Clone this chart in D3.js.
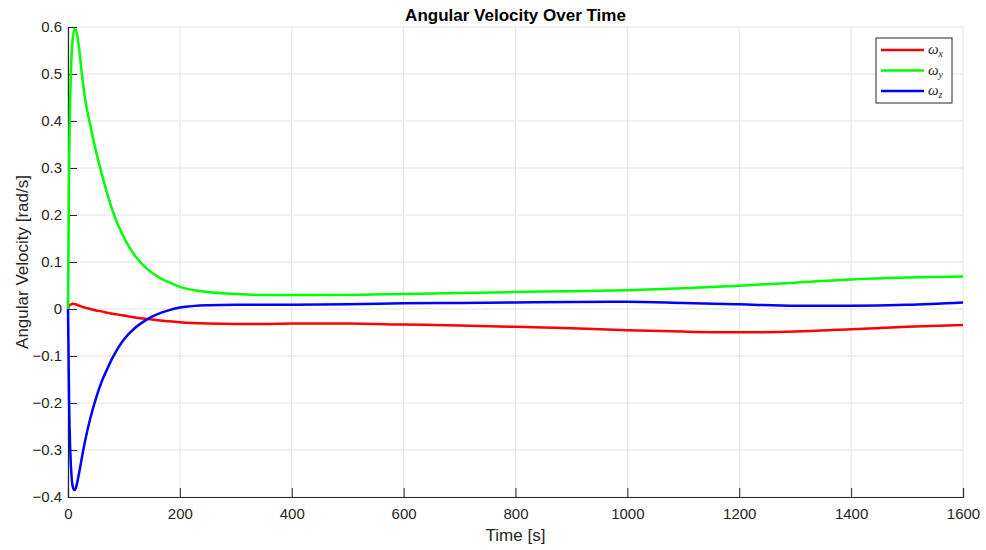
<!DOCTYPE html>
<html>
<head>
<meta charset="utf-8">
<script src="https://cdn.jsdelivr.net/npm/d3@7"></script>
<style>
  body { margin: 0; background: #fff; }
  svg { font-family: "Liberation Sans", Arial, Helvetica, sans-serif; }
</style>
</head>
<body>
<div id="chart"></div>
<script>
// time samples [s] and the three angular velocity components [rad/s]
const time = [0, 1, 2, 4, 6, 8, 10, 12, 14, 16, 20, 25, 30, 40, 50, 60, 70, 80, 90, 100,
  120, 140, 160, 180, 200, 250, 300, 350, 400, 500, 600, 700, 800, 900, 1000, 1100,
  1200, 1300, 1400, 1500, 1600];
const omegaX = [0, 0.004, 0.007, 0.009, 0.010, 0.011, 0.011, 0.010, 0.010, 0.009, 0.007, 0.005, 0.003, 0.000, -0.003, -0.005, -0.008, -0.010, -0.012, -0.014,
  -0.018, -0.021, -0.024, -0.026, -0.028, -0.031, -0.032, -0.032, -0.031, -0.031, -0.033, -0.035, -0.038, -0.041, -0.045, -0.048,
  -0.0496, -0.048, -0.043, -0.038, -0.034];
const omegaY = [0, 0.15, 0.3, 0.45, 0.53, 0.57, 0.588, 0.595, 0.594, 0.585, 0.553, 0.497, 0.452, 0.39, 0.336, 0.289, 0.246, 0.208, 0.177, 0.152,
  0.113, 0.087, 0.069, 0.057, 0.047, 0.036, 0.032, 0.030, 0.030, 0.030, 0.032, 0.034, 0.036, 0.038, 0.040, 0.044,
  0.0496, 0.056, 0.063, 0.067, 0.069];
const omegaZ = [0, -0.1, -0.2, -0.3, -0.35, -0.375, -0.383, -0.385, -0.381, -0.372, -0.348, -0.315, -0.284, -0.232, -0.19, -0.155, -0.128, -0.103, -0.082, -0.065,
  -0.04, -0.023, -0.011, -0.003, 0.003, 0.008, 0.009, 0.009, 0.009, 0.010, 0.012, 0.013, 0.014, 0.015, 0.0155, 0.013,
  0.010, 0.0068, 0.007, 0.009, 0.014];

const seriesNames = ["x", "y", "z"];
const seriesColors = ["#ff0000", "#00ff00", "#0000ff"];
const xTicks = [0, 200, 400, 600, 800, 1000, 1200, 1400, 1600];
const yTicks = [-0.4, -0.3, -0.2, -0.1, 0, 0.1, 0.2, 0.3, 0.4, 0.5, 0.6];

const width = 986, height = 550;
const margin = { top: 27, right: 23, bottom: 53, left: 68 };
const axisColor = "#262626";

const svg = d3.select("#chart").append("svg")
  .attr("width", width)
  .attr("height", height);

const x = d3.scaleLinear().domain([0, 1600]).range([margin.left, width - margin.right]);
const y = d3.scaleLinear().domain([-0.4, 0.6]).range([height - margin.bottom, margin.top]);

// grid
svg.append("g").selectAll("line.gx")
  .data(xTicks).enter().append("line")
  .attr("x1", d => x(d)).attr("x2", d => x(d))
  .attr("y1", y(-0.4)).attr("y2", y(0.6))
  .attr("stroke", "#e3e3e3").attr("stroke-width", 1);
svg.append("g").selectAll("line.gy")
  .data(yTicks).enter().append("line")
  .attr("x1", x(0)).attr("x2", x(1600))
  .attr("y1", d => y(d)).attr("y2", d => y(d))
  .attr("stroke", "#e3e3e3").attr("stroke-width", 1);

// axes (inward ticks)
const xAxis = svg.append("g")
  .attr("transform", `translate(0,${y(-0.4)})`)
  .call(d3.axisBottom(x).tickValues(xTicks).tickSize(-9).tickPadding(11).tickFormat(d3.format("d")));
const yAxis = svg.append("g")
  .attr("transform", `translate(${x(0)},0)`)
  .call(d3.axisLeft(y).tickValues(yTicks).tickSize(-9).tickPadding(6).tickFormat(d => d === 0 ? "0" : d3.format(".1f")(d)));

[xAxis, yAxis].forEach(g => {
  g.select(".domain").attr("stroke", axisColor).attr("stroke-width", 1.2);
  g.selectAll(".tick line").attr("stroke", axisColor).attr("stroke-width", 1);
  g.selectAll(".tick text").attr("fill", axisColor)
    .style("font-size", "15px")
    .style("font-family", "Liberation Sans, Arial, sans-serif");
});

// lines
const allSeries = [omegaX, omegaY, omegaZ];
const line = d3.line()
  .x((d, i) => x(time[i]))
  .y(d => y(d))
  .curve(d3.curveMonotoneX);

svg.append("g").selectAll("path")
  .data(allSeries).enter().append("path")
  .attr("d", d => line(d))
  .attr("fill", "none")
  .attr("stroke", (d, i) => seriesColors[i])
  .attr("stroke-width", 2.5)
  .attr("stroke-linejoin", "round");

// title and labels
svg.append("text")
  .attr("x", (margin.left + width - margin.right) / 2)
  .attr("y", 20.5)
  .attr("text-anchor", "middle")
  .style("font-size", "17px")
  .style("font-weight", "bold")
  .attr("fill", "#000")
  .text("Angular Velocity Over Time");

svg.append("text")
  .attr("x", (margin.left + width - margin.right) / 2)
  .attr("y", 541)
  .attr("text-anchor", "middle")
  .style("font-size", "17px")
  .attr("fill", axisColor)
  .text("Time [s]");

svg.append("text")
  .attr("transform", `translate(22,${(margin.top + height - margin.bottom) / 2}) rotate(-90)`)
  .attr("text-anchor", "middle")
  .attr("dy", "0.35em")
  .style("font-size", "17px")
  .attr("fill", axisColor)
  .text("Angular Velocity [rad/s]");

// legend
const legend = svg.append("g").attr("transform", "translate(876,38)");
legend.append("rect")
  .attr("width", 76).attr("height", 65)
  .attr("fill", "#fff")
  .attr("stroke", axisColor).attr("stroke-width", 1);
seriesNames.forEach((name, i) => {
  const ly = 12 + i * 20.5;
  legend.append("line")
    .attr("x1", 5).attr("x2", 48)
    .attr("y1", ly).attr("y2", ly)
    .attr("stroke", seriesColors[i]).attr("stroke-width", 2.5);
  const t = legend.append("text")
    .attr("x", 52).attr("y", ly + 4)
    .style("font-family", "Liberation Serif, Times New Roman, serif")
    .style("font-style", "italic")
    .style("font-size", "15px")
    .attr("fill", axisColor);
  t.append("tspan").text("ω");
  t.append("tspan").attr("dy", 3).style("font-size", "10px").text(name);
});
</script>
</body>
</html>
